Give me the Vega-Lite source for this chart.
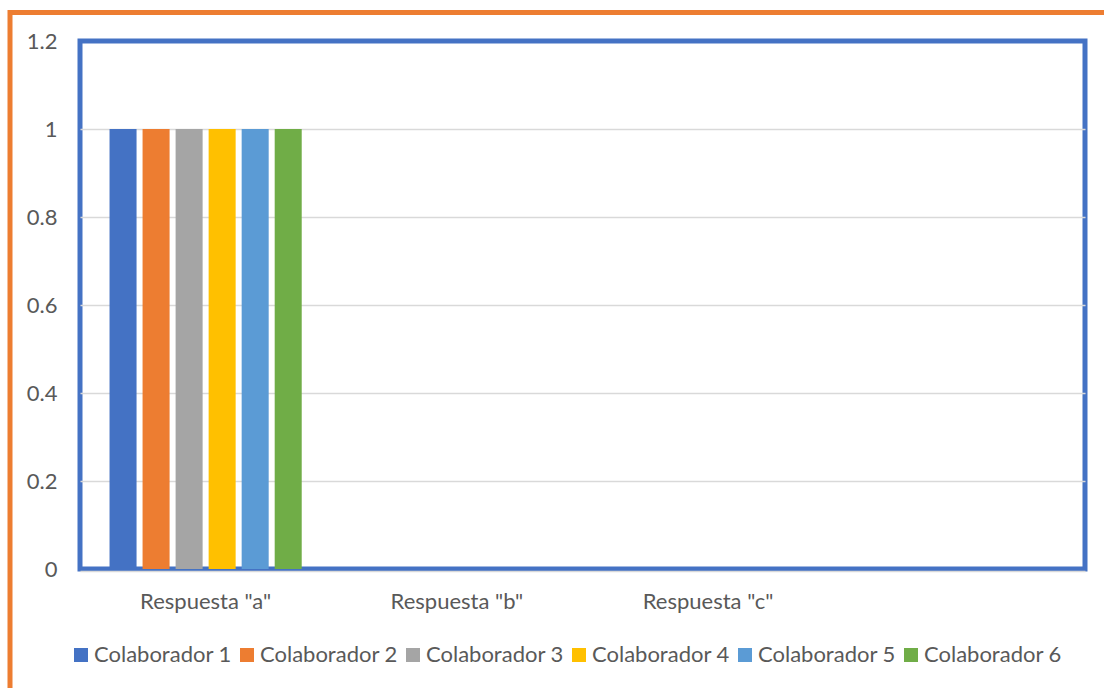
{
  "$schema": "https://vega.github.io/schema/vega-lite/v6.json",
  "width": 1005,
  "height": 528,
  "autosize": {"type": "none"},
  "padding": {"left": 80, "top": 41, "right": 19, "bottom": 119},
  "background": "white",
  "config": {
    "font": "Lato",
    "view": {"stroke": "#4472C4", "strokeWidth": 5},
    "axis": {"labelFont": "Lato", "labelColor": "#595959", "labelFontSize": 22},
    "legend": {"strokeWidth": 5}
  },
  "data": {
    "values": [
      {"Respuesta": "Respuesta \"a\"", "Colaborador": "Colaborador 1", "valor": 1},
      {"Respuesta": "Respuesta \"a\"", "Colaborador": "Colaborador 2", "valor": 1},
      {"Respuesta": "Respuesta \"a\"", "Colaborador": "Colaborador 3", "valor": 1},
      {"Respuesta": "Respuesta \"a\"", "Colaborador": "Colaborador 4", "valor": 1},
      {"Respuesta": "Respuesta \"a\"", "Colaborador": "Colaborador 5", "valor": 1},
      {"Respuesta": "Respuesta \"a\"", "Colaborador": "Colaborador 6", "valor": 1},
      {"Respuesta": "Respuesta \"b\"", "Colaborador": "Colaborador 1", "valor": 0},
      {"Respuesta": "Respuesta \"b\"", "Colaborador": "Colaborador 2", "valor": 0},
      {"Respuesta": "Respuesta \"b\"", "Colaborador": "Colaborador 3", "valor": 0},
      {"Respuesta": "Respuesta \"b\"", "Colaborador": "Colaborador 4", "valor": 0},
      {"Respuesta": "Respuesta \"b\"", "Colaborador": "Colaborador 5", "valor": 0},
      {"Respuesta": "Respuesta \"b\"", "Colaborador": "Colaborador 6", "valor": 0},
      {"Respuesta": "Respuesta \"c\"", "Colaborador": "Colaborador 1", "valor": 0},
      {"Respuesta": "Respuesta \"c\"", "Colaborador": "Colaborador 2", "valor": 0},
      {"Respuesta": "Respuesta \"c\"", "Colaborador": "Colaborador 3", "valor": 0},
      {"Respuesta": "Respuesta \"c\"", "Colaborador": "Colaborador 4", "valor": 0},
      {"Respuesta": "Respuesta \"c\"", "Colaborador": "Colaborador 5", "valor": 0},
      {"Respuesta": "Respuesta \"c\"", "Colaborador": "Colaborador 6", "valor": 0}
    ]
  },
  "layer": [
    {
      "mark": {"type": "bar"},
      "encoding": {
        "x": {
          "field": "Respuesta",
          "type": "nominal",
          "sort": null,
          "scale": {"domain": ["Respuesta \"a\"", "Respuesta \"b\"", "Respuesta \"c\"", " "], "paddingInner": 0, "paddingOuter": 0},
          "axis": {"title": null, "labelAngle": 0, "ticks": false, "domain": true, "domainColor": "#D9D9D9", "domainWidth": 1.5, "offset": 2, "labelPadding": 20, "grid": false}
        },
        "xOffset": {
          "field": "Colaborador",
          "type": "nominal",
          "scale": {"paddingInner": 0.182, "paddingOuter": 0.894}
        },
        "y": {
          "field": "valor",
          "type": "quantitative",
          "scale": {"domain": [0, 1.2], "nice": false, "zero": true},
          "axis": {
            "title": null,
            "values": [0, 0.2, 0.4, 0.6, 0.8, 1, 1.2],
            "format": "~g",
            "ticks": false,
            "domain": false,
            "labelPadding": 23,
            "gridColor": "#D9D9D9",
            "gridWidth": 1.5,
            "gridOpacity": {"condition": {"test": "datum.value > 1.1 || datum.value < 0.1", "value": 0}, "value": 1}
          }
        },
        "color": {
          "field": "Colaborador",
          "type": "nominal",
          "scale": {"range": ["#4472C4", "#ED7D31", "#A5A5A5", "#FFC000", "#5B9BD5", "#70AD47"]},
          "legend": {
            "title": null,
            "orient": "none",
            "legendX": -10,
            "legendY": 603,
            "direction": "horizontal",
            "columns": 6,
            "symbolType": "square",
            "symbolSize": 196,
            "symbolStrokeWidth": 0,
            "labelFont": "Lato",
            "labelFontSize": 22,
            "labelColor": "#595959",
            "labelOffset": 2,
            "columnPadding": 4,
            "padding": 0
          }
        }
      }
    },
    {
      "mark": {"type": "point", "opacity": 0},
      "encoding": {
        "x": {"field": "Respuesta", "type": "nominal", "sort": null},
        "y": {"field": "valor", "type": "quantitative"},
        "shape": {
          "field": "Respuesta",
          "type": "nominal",
          "legend": {
            "title": null,
            "orient": "none",
            "legendX": -70,
            "legendY": -28.5,
            "strokeColor": "#ED7D31",
            "padding": 700,
            "symbolOpacity": 0,
            "labelExpr": "''"
          }
        }
      }
    }
  ]
}
